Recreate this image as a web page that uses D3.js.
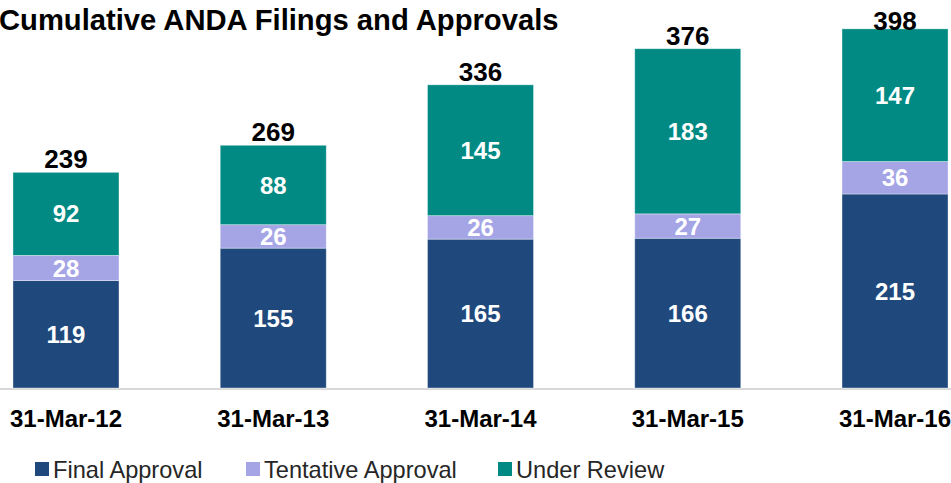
<!DOCTYPE html>
<html>
<head>
<meta charset="utf-8">
<script src="https://cdn.jsdelivr.net/npm/d3@7"></script>
<style>
  html, body { margin: 0; padding: 0; background: #fff; }
  svg { display: block; font-family: "Liberation Sans", Arial, sans-serif; }
</style>
</head>
<body>
<svg id="chart" width="951" height="483"></svg>
<script>
// Cumulative ANDA filings, stacked by status.
const dates = ['31-Mar-12', '31-Mar-13', '31-Mar-14', '31-Mar-15', '31-Mar-16'];
const finalApproval = [119, 155, 165, 166, 215];
const tentativeApproval = [28, 26, 26, 27, 36];
const underReview = [92, 88, 145, 183, 147];
const totals = [239, 269, 336, 376, 398];
const seriesNames = ['Final Approval', 'Tentative Approval', 'Under Review'];

const colors = ['#1f497d', '#a5a5e6', '#008a83'];

const svg = d3.select('#chart');
const W = 951, H = 483;

const rows = dates.map((d, i) => ({
  date: d,
  'Final Approval': finalApproval[i],
  'Tentative Approval': tentativeApproval[i],
  'Under Review': underReview[i],
  total: totals[i]
}));

// plot is wider than the picture: first/last bands are cropped
const x = d3.scaleBand()
  .domain(dates)
  .range([-37.6, 998.6])
  .paddingInner(0.4885)
  .paddingOuter(0.244);

const y = d3.scaleLinear().domain([0, 430]).range([388, 0]);

const stacked = d3.stack().keys(seriesNames)(rows);

// baseline
svg.append('line')
  .attr('x1', 0).attr('x2', W)
  .attr('y1', y(0) + 1).attr('y2', y(0) + 1)
  .attr('stroke', '#d9d9d9').attr('stroke-width', 2);

const layers = svg.append('g').selectAll('g')
  .data(stacked)
  .join('g')
  .attr('fill', (d, i) => colors[i]);

layers.selectAll('rect')
  .data(d => d)
  .join('rect')
  .attr('x', d => x(d.data.date))
  .attr('width', x.bandwidth())
  .attr('y', d => y(d[1]))
  .attr('height', d => y(d[0]) - y(d[1]))
  .attr('stroke', '#ffffff')
  .attr('stroke-opacity', 0.45)
  .attr('stroke-width', 0.8);

// segment values
layers.selectAll('text')
  .data(d => d.map(v => ({ v, key: d.key })))
  .join('text')
  .attr('x', d => x(d.v.data.date) + x.bandwidth() / 2)
  .attr('y', d => (y(d.v[0]) + y(d.v[1])) / 2)
  .attr('dy', '0.36em')
  .attr('text-anchor', 'middle')
  .attr('fill', '#ffffff')
  .attr('font-weight', 'bold')
  .attr('font-size', 24)
  .text(d => d.v.data[d.key]);

// totals above the bars
svg.append('g').selectAll('text')
  .data(rows)
  .join('text')
  .attr('x', d => x(d.date) + x.bandwidth() / 2)
  .attr('y', d => Math.max(y(d.total) - 4, 30))
  .attr('text-anchor', 'middle')
  .attr('fill', '#000')
  .attr('font-weight', 'bold')
  .attr('font-size', 26)
  .text(d => d.total);

// category axis
const xAxis = svg.append('g')
  .attr('transform', `translate(0,${y(0)})`)
  .call(d3.axisBottom(x).tickSize(0).tickPadding(0));
xAxis.select('.domain').remove();
xAxis.selectAll('text')
  .attr('dy', null)
  .attr('y', 39)
  .attr('fill', '#000')
  .attr('font-family', '"Liberation Sans", Arial, sans-serif')
  .attr('font-weight', 'bold')
  .attr('font-size', 24);

// title
svg.append('text')
  .attr('x', -1).attr('y', 30)
  .attr('font-weight', 'bold')
  .attr('font-size', 29.2)
  .attr('fill', '#000')
  .text('Cumulative ANDA Filings and Approvals');

// legend
const legendX = [35, 246, 498];
const legend = svg.append('g').selectAll('g')
  .data(seriesNames)
  .join('g')
  .attr('transform', (d, i) => `translate(${legendX[i]},462)`);
legend.append('rect')
  .attr('width', 14).attr('height', 14)
  .attr('fill', (d, i) => colors[i]);
legend.append('text')
  .attr('x', 18).attr('y', 15.5)
  .attr('font-size', 23.6)
  .attr('fill', '#262626')
  .text(d => d);
</script>
</body>
</html>
